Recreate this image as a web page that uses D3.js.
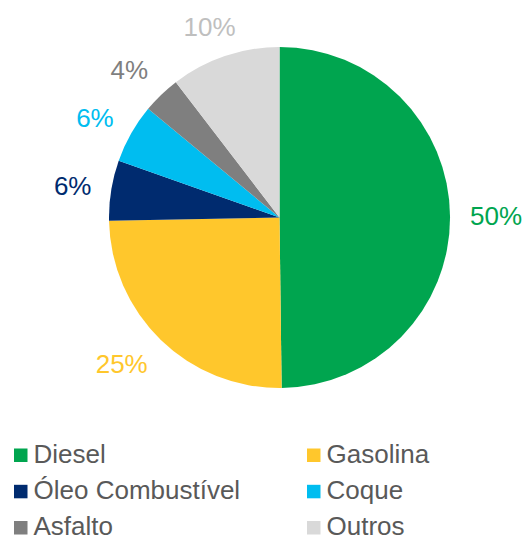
<!DOCTYPE html>
<html>
<head>
<meta charset="utf-8">
<script src="https://cdn.jsdelivr.net/npm/d3@7"></script>
<style>
  html, body { margin: 0; padding: 0; background: #fff; }
  svg { display: block; }
  text { font-family: "Liberation Sans", Arial, sans-serif; }
</style>
</head>
<body>
<svg id="chart" width="522" height="536"></svg>
<script>
const categories = ["Diesel", "Gasolina", "Óleo Combustível", "Coque", "Asfalto", "Outros"];
const values = [49.8, 24.9, 5.7, 5.6, 3.6, 10.4];
const colors = ["#00A54F", "#FFC72C", "#002B6F", "#00BDF0", "#7F7F7F", "#D9D9D9"];
const labelColors = ["#00A54F", "#FFC72C", "#002B6F", "#00BDF0", "#7F7F7F", "#BFBFBF"];

const svg = d3.select("#chart");
const cx = 279.5, cy = 217.5, r = 170.5;

const data = categories.map((c, i) => ({ name: c, value: values[i], color: colors[i], lc: labelColors[i] }));

const pie = d3.pie().value(d => d.value).sort(null).startAngle(0).endAngle(2 * Math.PI);
const arc = d3.arc().innerRadius(0).outerRadius(r);
const arcs = pie(data);

const g = svg.append("g").attr("transform", `translate(${cx},${cy})`);
g.selectAll("path.slice").data(arcs).enter().append("path")
  .attr("class", "slice")
  .attr("d", arc)
  .attr("fill", d => d.data.color);

// Outside-end labels
const fontSize = 26;
const gap = 20;
g.selectAll("text.lbl").data(arcs).enter().append("text")
  .attr("class", "lbl")
  .attr("font-size", fontSize)
  .attr("fill", d => d.data.lc)
  .attr("text-anchor", "middle")
  .attr("dominant-baseline", "central")
  .text(d => Math.round(d.data.value) + "%")
  .each(function(d) {
    const a = (d.startAngle + d.endAngle) / 2;
    const ux = Math.sin(a), uy = -Math.cos(a);
    const w = this.getComputedTextLength(), h = 20;
    const m = Math.max(Math.abs(ux), Math.abs(uy));
    const R = r + gap;
    const x = ux * R + (w / 2) * ux / m;
    const y = uy * R + (h / 2) * uy / m;
    d3.select(this).attr("x", x).attr("y", y);
  });

// Legend
const legend = svg.append("g");
const colX = [14, 307];
const rowY = [462.5, 498.8, 535];
const sq = 13.5;
data.forEach((d, i) => {
  const col = i % 2, row = Math.floor(i / 2);
  const lg = legend.append("g").attr("transform", `translate(${colX[col]},${rowY[row]})`);
  lg.append("rect").attr("x", 0).attr("y", -14).attr("width", sq).attr("height", sq).attr("fill", d.color);
  lg.append("text").attr("x", 19.5).attr("y", 0).attr("font-size", 26).attr("fill", "#595959").text(d.name);
});
</script>
</body>
</html>
